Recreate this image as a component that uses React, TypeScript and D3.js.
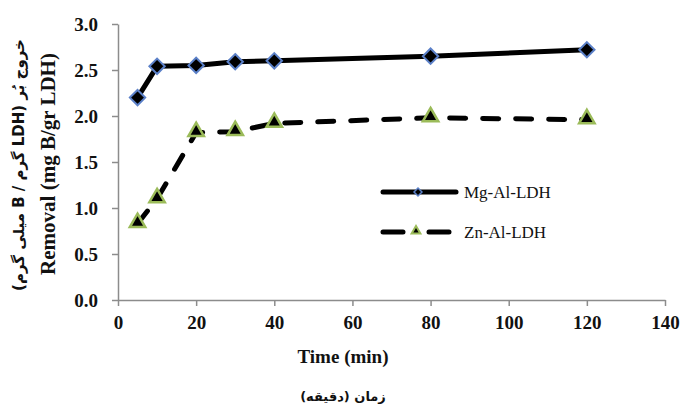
import React, { useRef, useEffect } from 'react';
import * as d3 from 'd3';

const times = [5, 10, 20, 30, 40, 80, 120];
const mgAlLdh = [2.2, 2.54, 2.55, 2.59, 2.6, 2.65, 2.72];
const znAlLdh = [0.83, 1.1, 1.82, 1.83, 1.92, 1.98, 1.96];
const xTicks = [0, 20, 40, 60, 80, 100, 120, 140];
const yTicks = [0, 0.5, 1, 1.5, 2, 2.5, 3];
const seriesNames = ['Mg-Al-LDH', 'Zn-Al-LDH'];

const App = () => {
  const ref = useRef<SVGSVGElement>(null);

  useEffect(() => {
    const svg = d3.select(ref.current);
    svg.selectAll('*').remove();

    const x = d3.scaleLinear().domain([0, 140]).range([118, 665]);
    const y = d3.scaleLinear().domain([0, 3]).range([300, 24]);
    const serif = '"Liberation Serif", "Times New Roman", serif';
    const persian = '"DejaVu Sans", sans-serif';
    const axisColor = '#8c8c8c';

    // y axis
    const yAxis = svg.append('g')
      .attr('transform', `translate(${x(0)},0)`)
      .call(d3.axisLeft(y).tickValues(yTicks).tickFormat(d3.format('.1f')).tickSize(6).tickSizeOuter(0).tickPadding(14));
    yAxis.select('.domain').attr('stroke', axisColor).attr('stroke-width', 1.5);
    yAxis.selectAll('.tick line').attr('stroke', axisColor).attr('stroke-width', 1.5);
    yAxis.selectAll('.tick text')
      .attr('fill', '#111').style('font-family', serif).style('font-size', '19px').style('font-weight', 'bold');

    // x axis
    const xAxis = svg.append('g')
      .attr('transform', `translate(0,${y(0)})`)
      .call(d3.axisBottom(x).tickValues(xTicks).tickSize(6).tickSizeOuter(0).tickPadding(10));
    xAxis.select('.domain').attr('stroke', axisColor).attr('stroke-width', 1.5);
    xAxis.selectAll('.tick line').attr('stroke', axisColor).attr('stroke-width', 1.5);
    xAxis.selectAll('.tick text')
      .attr('fill', '#111').style('font-family', serif).style('font-size', '19px').style('font-weight', 'bold');

    const line = d3.line<number>()
      .x((_, i) => x(times[i]))
      .y(d => y(d));

    // Zn-Al-LDH dashed
    svg.append('path')
      .datum(znAlLdh)
      .attr('d', line)
      .attr('fill', 'none')
      .attr('stroke', '#000')
      .attr('stroke-width', 5)
      .attr('stroke-linecap', 'round')
      .attr('stroke-dasharray', '16 17');

    // Mg-Al-LDH solid
    svg.append('path')
      .datum(mgAlLdh)
      .attr('d', line)
      .attr('fill', 'none')
      .attr('stroke', '#000')
      .attr('stroke-width', 5)
      .attr('stroke-linejoin', 'round');

    const diamond = d3.symbol().type(d3.symbolDiamond2).size(150);
    const triangle = d3.symbol().type(d3.symbolTriangle2).size(170);

    svg.append('g').selectAll('path')
      .data(mgAlLdh)
      .join('path')
      .attr('d', diamond)
      .attr('transform', (d, i) => `translate(${x(times[i])},${y(d)})`)
      .attr('fill', '#000')
      .attr('stroke', '#5b80c8')
      .attr('stroke-width', 2);

    svg.append('g').selectAll('path')
      .data(znAlLdh)
      .join('path')
      .attr('d', triangle)
      .attr('transform', (d, i) => `translate(${x(times[i])},${y(d) - 1})`)
      .attr('fill', '#000')
      .attr('stroke', '#9bbb59')
      .attr('stroke-width', 2.5);

    // legend
    const legend = svg.append('g');
    legend.append('line')
      .attr('x1', 383).attr('x2', 456).attr('y1', 192).attr('y2', 192)
      .attr('stroke', '#000').attr('stroke-width', 5).attr('stroke-linecap', 'round');
    legend.append('path')
      .attr('d', d3.symbol().type(d3.symbolDiamond2).size(40))
      .attr('transform', 'translate(418,192)')
      .attr('fill', '#000').attr('stroke', '#5b80c8').attr('stroke-width', 1.5);
    legend.append('text')
      .attr('x', 464).attr('y', 198)
      .attr('fill', '#111').style('font-family', serif).style('font-size', '17px')
      .text(seriesNames[0]);

    legend.append('line')
      .attr('x1', 383).attr('x2', 450).attr('y1', 232).attr('y2', 232)
      .attr('stroke', '#000').attr('stroke-width', 5).attr('stroke-linecap', 'round')
      .attr('stroke-dasharray', '20 26');
    legend.append('path')
      .attr('d', d3.symbol().type(d3.symbolTriangle2).size(55))
      .attr('transform', 'translate(416,231)')
      .attr('fill', '#000').attr('stroke', '#9bbb59').attr('stroke-width', 2);
    legend.append('text')
      .attr('x', 464).attr('y', 238)
      .attr('fill', '#111').style('font-family', serif).style('font-size', '17px')
      .text(seriesNames[1]);

    // axis titles
    svg.append('text')
      .attr('x', 343).attr('y', 363)
      .attr('text-anchor', 'middle')
      .attr('fill', '#111').style('font-family', serif).style('font-size', '19px').style('font-weight', 'bold')
      .text('Time (min)');
    svg.append('text')
      .attr('x', 343).attr('y', 401)
      .attr('text-anchor', 'middle')
      .attr('direction', 'rtl')
      .attr('fill', '#111').style('font-family', persian).style('font-size', '13px').style('font-weight', 'bold')
      .text('زمان (دقیقه)');

    svg.append('text')
      .attr('transform', 'translate(55,164) rotate(-90)')
      .attr('text-anchor', 'middle')
      .attr('fill', '#111').style('font-family', serif).style('font-size', '21px').style('font-weight', 'bold')
      .text('Removal (mg B/gr LDH)');
    svg.append('text')
      .attr('transform', 'translate(24,165) rotate(-90)')
      .attr('text-anchor', 'middle')
      .attr('direction', 'ltr')
      .attr('fill', '#111').style('font-family', persian).style('font-size', '15px').style('font-weight', 'bold')
      .text('(میلی گرم B / گرم LDH) خروج بُر');
  }, []);

  return (
    <svg
      ref={ref}
      width={682}
      height={407}
      style={{ position: 'absolute', left: 0, top: 0, background: '#fff' }}
    />
  );
};

export default App;
